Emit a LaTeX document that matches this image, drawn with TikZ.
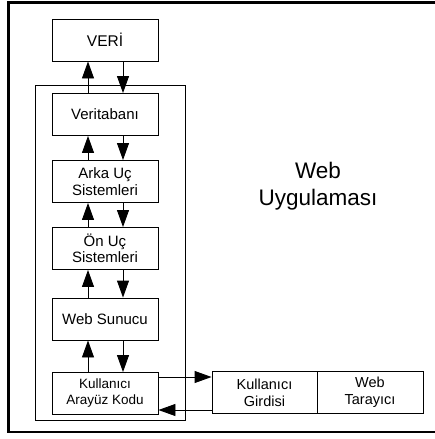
\documentclass[tikz,border=0pt]{standalone}
\usepackage{fontspec}
\setmainfont{Liberation Sans}
\usetikzlibrary{arrows.meta}

\tikzset{
  katman/.style={draw,line width=0.9pt,minimum width=106pt,minimum height=42pt,inner sep=0pt,align=center,font=\fontsize{15}{16.5}\selectfont},
  ok/.style={line width=0.9pt,-{Triangle[length=17pt,width=12pt]}}
}

\begin{document}
\begin{tikzpicture}[x=1pt,y=-1pt]
                    \useasboundingbox (0,0) rectangle (435,439);
                    \draw[line width=2.8pt] (437,2.5) -- (8.5,2.5) -- (8.5,432) -- (437,432);
                    \draw[line width=0.9pt] (35,85) rectangle (185,420);
                    \node[katman,font=\fontsize{15.5}{17}\selectfont](veri) at (105,40){VERİ};
                    \node[katman](db) at (105,114.5){Veritabanı};
                    \node[katman](arka) at (105,181.5){Arka Uç\\Sistemleri};
                    \node[katman](on) at (105,248.5){Ön Uç\\Sistemleri};
                    \node[katman](sunucu) at (105,319){Web Sunucu};
                    \node[katman,font=\fontsize{13.5}{16}\selectfont](arayuz) at (105,393.5){Kullanıcı\\Arayüz Kodu};
                    \node[katman,minimum width=105pt,font=\fontsize{14.5}{17}\selectfont](girdi) at (264.5,392.5){Kullanıcı\\Girdisi};
                    \node[katman,font=\fontsize{14.5}{17}\selectfont](tarayici) at (370,392.5){Web\\Tarayıcı};
                    \node[align=center,font=\fontsize{22.5}{27}\selectfont](uyg) at (318,186){Web\\Uygulaması};
                    \draw[ok]([xshift=-17pt]db.north)--([xshift=-17pt]veri.south);
                    \draw[ok]([xshift=18pt]veri.south)--([xshift=18pt]db.north);
                    \draw[ok]([xshift=-17pt]arka.north)--([xshift=-17pt]db.south);
                    \draw[ok]([xshift=18pt]db.south)--([xshift=18pt]arka.north);
                    \draw[ok]([xshift=-17pt]on.north)--([xshift=-17pt]arka.south);
                    \draw[ok]([xshift=18pt]arka.south)--([xshift=18pt]on.north);
                    \draw[ok]([xshift=-17pt]sunucu.north)--([xshift=-17pt]on.south);
                    \draw[ok]([xshift=18pt]on.south)--([xshift=18pt]sunucu.north);
                    \draw[ok]([xshift=-17pt]arayuz.north)--([xshift=-17pt]sunucu.south);
                    \draw[ok]([xshift=18pt]sunucu.south)--([xshift=18pt]arayuz.north);
                    \draw[ok]([yshift=16.5pt]arayuz.east)--([yshift=15.5pt]girdi.west);
                    \draw[ok]([yshift=-17.5pt]girdi.west)--([yshift=-16.5pt]arayuz.east);
                \end{tikzpicture}
\end{document}
